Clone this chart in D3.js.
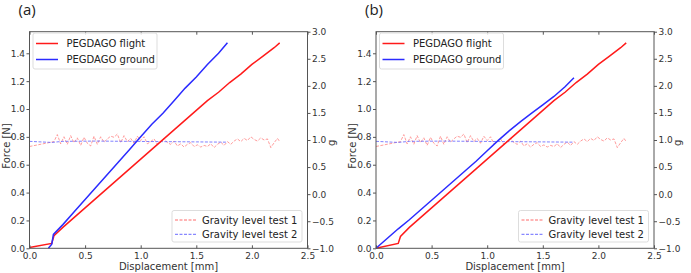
<!DOCTYPE html>
<html><head><meta charset="utf-8">
<script src="https://cdn.jsdelivr.net/npm/d3@7"></script>
<style>body{margin:0;background:#fff}svg{display:block}text{font-family:"DejaVu Sans",sans-serif}</style>
</head><body><svg id="c" width="691" height="273"></svg>
<script>
// ---- data ----
const xTicks = [0.0, 0.5, 1.0, 1.5, 2.0, 2.5];
const yTicks = [0.0, 0.2, 0.4, 0.6, 0.8, 1.0, 1.2, 1.4];
const gTicks = [-1.0, -0.5, 0.0, 0.5, 1.0, 1.5, 2.0, 2.5, 3.0];
const panelLabels = ["(a)", "(b)"];
const seriesNames = ["PEGDAGO flight", "PEGDAGO ground", "Gravity level test 1", "Gravity level test 2"];

// panel (a)
const flightA_x = [0, 0.2, 0.22, 0.3, 0.4, 0.5, 0.6, 0.7, 0.8, 0.9, 1.0, 1.1, 1.2, 1.3, 1.4, 1.5, 1.6, 1.7, 1.8, 1.9, 2.0, 2.1, 2.2, 2.25];
const flightA_y = [0.005, 0.035, 0.09, 0.15, 0.22, 0.29, 0.36, 0.43, 0.50, 0.57, 0.64, 0.71, 0.78, 0.85, 0.92, 0.99, 1.06, 1.12, 1.19, 1.25, 1.32, 1.38, 1.44, 1.475];
const groundA_x = [0.17, 0.2, 0.215, 0.3, 0.4, 0.5, 0.6, 0.7, 0.8, 0.9, 1.0, 1.1, 1.2, 1.3, 1.4, 1.5, 1.6, 1.7, 1.78];
const groundA_y = [0.0, 0.03, 0.1, 0.17, 0.26, 0.35, 0.44, 0.53, 0.62, 0.71, 0.80, 0.89, 0.97, 1.06, 1.15, 1.23, 1.32, 1.40, 1.475];
// panel (b)
const flightB_x = [0, 0.2, 0.22, 0.3, 0.4, 0.5, 0.6, 0.7, 0.8, 0.9, 1.0, 1.1, 1.2, 1.3, 1.4, 1.5, 1.6, 1.7, 1.8, 1.9, 2.0, 2.1, 2.2, 2.25];
const flightB_y = [0.0, 0.035, 0.085, 0.15, 0.22, 0.29, 0.36, 0.43, 0.50, 0.57, 0.64, 0.71, 0.78, 0.85, 0.92, 0.99, 1.06, 1.12, 1.19, 1.25, 1.32, 1.38, 1.44, 1.475];
const groundB_x = [0, 0.1, 0.2, 0.3, 0.4, 0.5, 0.6, 0.7, 0.8, 0.9, 1.0, 1.1, 1.2, 1.3, 1.4, 1.5, 1.6, 1.7, 1.78];
const groundB_y = [0, 0.07, 0.14, 0.205, 0.275, 0.345, 0.415, 0.485, 0.555, 0.625, 0.70, 0.775, 0.845, 0.91, 0.97, 1.03, 1.09, 1.16, 1.225];

// gravity levels (right axis, g)
const grav1_x = [0, 0.22, 0.25, 0.28, 0.31, 0.34, 0.37, 0.40, 0.43, 0.46, 0.49, 0.52, 0.55, 0.58, 0.61, 0.64, 0.67, 0.70, 0.73, 0.76, 0.79, 0.82, 0.85, 0.88, 0.91, 0.94, 0.97, 1.00, 1.03, 1.06, 1.09, 1.12, 1.15, 1.18, 1.21, 1.24, 1.27, 1.30, 1.33, 1.36, 1.39, 1.42, 1.45, 1.48, 1.51, 1.54, 1.57, 1.60, 1.63, 1.66, 1.69, 1.72, 1.75, 1.78, 1.81, 1.84, 1.87, 1.90, 1.93, 1.96, 1.99, 2.02, 2.05, 2.08, 2.11, 2.14, 2.17, 2.20, 2.23, 2.25];
const grav1_g = [0.88, 0.97, 1.10, 0.93, 1.06, 0.92, 1.08, 0.95, 1.04, 0.90,
                 1.05, 0.94, 0.89, 1.07, 0.92, 1.06, 0.96, 1.02, 1.07, 1.05,
                 1.11, 0.95, 1.08, 0.97, 1.03, 0.94, 1.07, 0.99, 1.06, 0.93,
                 0.97, 1.02, 0.92, 0.97, 1.03, 0.95, 0.92, 0.98, 0.89, 0.93,
                 0.87, 0.92, 0.95, 0.88, 0.91, 0.87, 0.90, 0.88, 0.93, 0.86,
                 0.92, 0.96, 0.90, 0.97, 0.92, 0.98, 1.02, 0.97, 1.03, 0.99,
                 1.06, 1.01, 0.98, 1.04, 1.00, 1.02, 0.86, 0.95, 1.03, 0.97];
const grav2_x = [0, 0.2, 0.3, 0.6, 0.9, 1.2, 1.5, 1.78];
const grav2_g = [0.975, 0.955, 0.975, 0.98, 0.975, 0.97, 0.965, 0.96];

const panels = [
  {label: panelLabels[0], left: 29.5, fx: flightA_x, fy: flightA_y, gx: groundA_x, gy: groundA_y},
  {label: panelLabels[1], left: 376, fx: flightB_x, fy: flightB_y, gx: groundB_x, gy: groundB_y}
];

const svg = d3.select("#c");
const W = 278, yTop = 31.7, yBot = 248.3;
const zip = (a, b) => a.slice(0, Math.min(a.length, b.length)).map((v, i) => [v, b[i]]);
const axisCol = "#555", textCol = "#333";
const RED = "#ff1a1a", BLUE = "#2b2bff";

panels.forEach(p => {
  const g = svg.append("g");
  const x = d3.scaleLinear().domain([0, 2.5]).range([p.left, p.left + W]);
  const y = d3.scaleLinear().domain([0, 1.555]).range([yBot, yTop]);
  const yg = d3.scaleLinear().domain([-1, 3]).range([yBot, yTop]);

  const lg = d3.line().x(d => x(d[0])).y(d => yg(d[1]));
  g.append("path").attr("d", lg(zip(grav1_x, grav1_g))).attr("fill", "none")
    .attr("stroke", "#ff6b6b").attr("stroke-width", 0.9).attr("stroke-dasharray", "3,1.5").attr("opacity", 0.75);
  g.append("path").attr("d", lg(zip(grav2_x, grav2_g))).attr("fill", "none")
    .attr("stroke", "#6b6bff").attr("stroke-width", 1).attr("stroke-dasharray", "3,1.5").attr("opacity", 0.85);

  const lf = d3.line().x(d => x(d[0])).y(d => y(d[1]));
  g.append("path").attr("d", lf(zip(p.fx, p.fy))).attr("fill", "none").attr("stroke", RED).attr("stroke-width", 1.5);
  g.append("path").attr("d", lf(zip(p.gx, p.gy))).attr("fill", "none").attr("stroke", BLUE).attr("stroke-width", 1.5);

  g.append("rect").attr("x", x(0)).attr("y", yTop).attr("width", W).attr("height", yBot - yTop)
    .attr("fill", "none").attr("stroke", axisCol).attr("stroke-width", 1);

  const xb = g.append("g").attr("transform", `translate(0,${yBot})`)
    .call(d3.axisBottom(x).tickValues(xTicks).tickFormat(d3.format(".1f")).tickSizeInner(-3).tickSizeOuter(0).tickPadding(4));
  const xt = g.append("g").attr("transform", `translate(0,${yTop})`)
    .call(d3.axisTop(x).tickValues(xTicks).tickFormat("").tickSizeInner(-3).tickSizeOuter(0));
  const yl = g.append("g").attr("transform", `translate(${x(0)},0)`)
    .call(d3.axisLeft(y).tickValues(yTicks).tickFormat(d3.format(".1f")).tickSizeInner(3).tickSizeOuter(0).tickPadding(1.5));
  const yr = g.append("g").attr("transform", `translate(${x(2.5)},0)`)
    .call(d3.axisRight(yg).tickValues(gTicks).tickFormat(d => d3.format(".1f")(d).replace("-", "\u2212")).tickSizeInner(3).tickSizeOuter(0).tickPadding(1.5));
  [xb, xt, yl, yr].forEach(a => {
    a.select(".domain").remove();
    a.selectAll("line").attr("stroke", axisCol);
    a.selectAll("text").attr("fill", textCol).style("font-size", "9px").style("font-family", "DejaVu Sans");
  });

  g.append("text").attr("x", x(1.25)).attr("y", 270).attr("text-anchor", "middle")
    .attr("fill", textCol).style("font-size", "10px").text("Displacement [mm]");
  g.append("text").attr("transform", `translate(${p.left - 20},${(yTop + yBot) / 2 + 6}) rotate(-90)`)
    .attr("text-anchor", "middle").attr("fill", textCol).style("font-size", "10px").text("Force [N]");
  g.append("text").attr("transform", `translate(${p.left + W + 27},${yg(0.95)}) rotate(-90)`)
    .attr("text-anchor", "middle").attr("fill", textCol).style("font-size", "10px").text("g");
  g.append("text").attr("x", p.left - 11).attr("y", 14.5).attr("fill", "#222").style("font-size", "15px")
    .style("font-family", "Open Sans, DejaVu Sans").text(p.label);

  const L1 = g.append("g").attr("transform", `translate(${p.left + 3.5},33)`);
  L1.append("rect").attr("width", 124).attr("height", 36).attr("rx", 2)
    .attr("fill", "rgba(255,255,255,0.8)").attr("stroke", "#ddd");
  [[seriesNames[0], RED], [seriesNames[1], BLUE]].forEach((d, i) => {
    const yy = 10.5 + i * 16;
    L1.append("line").attr("x1", 3).attr("x2", 25).attr("y1", yy).attr("y2", yy).attr("stroke", d[1]).attr("stroke-width", 1.5);
    L1.append("text").attr("x", 33.5).attr("y", yy + 3.6).attr("fill", "#222").style("font-size", "10px").text(d[0]);
  });
  const L2 = g.append("g").attr("transform", `translate(${p.left + 142.5},210.5)`);
  L2.append("rect").attr("width", 130).attr("height", 31.5).attr("rx", 2)
    .attr("fill", "rgba(255,255,255,0.8)").attr("stroke", "#ddd");
  [[seriesNames[2], "#ff6b6b"], [seriesNames[3], "#6b6bff"]].forEach((d, i) => {
    const yy = 9.5 + i * 14.3;
    L2.append("line").attr("x1", 3).attr("x2", 25).attr("y1", yy).attr("y2", yy).attr("stroke", d[1])
      .attr("stroke-width", 1).attr("stroke-dasharray", "3,1.5");
    L2.append("text").attr("x", 30).attr("y", yy + 3.6).attr("fill", "#222").style("font-size", "10px").text(d[0]);
  });
});
</script></body></html>
